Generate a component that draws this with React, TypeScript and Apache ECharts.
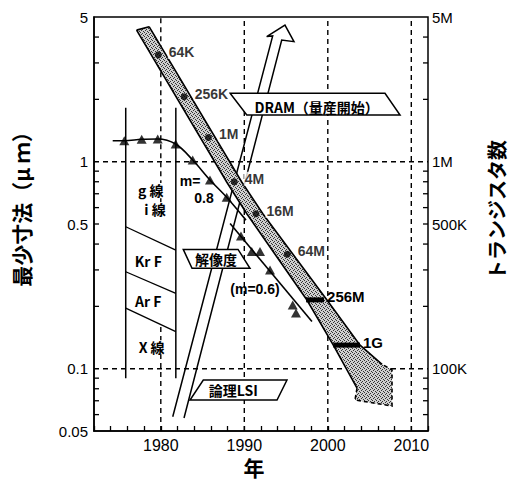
import React, { useEffect, useRef } from 'react';
import * as echarts from 'echarts';

// ---- axes ----
const xMin = 1972;
const xMax = 2012;
const yMin = 0.05;
const yMax = 5;
const xLabelYears = [1980, 1990, 2000, 2010];
const yLabelValues = [5, 1, 0.5, 0.1, 0.05];
const yLabelTexts = ['5', '1', '0.5', '0.1', '0.05'];
const yTickValues = [4, 3, 2, 0.9, 0.8, 0.7, 0.6, 0.5, 0.4, 0.3, 0.2, 0.09, 0.08, 0.07, 0.06];
const rightLabelValues = [5, 1, 0.5, 0.1];
const rightLabelTexts = ['5M', '1M', '500K', '100K'];
const gridYears = [1990, 2000, 2010];
const grid1980Segments = [[0.05, 0.16], [0.57, 5]];
const gridValues = [1, 0.1];

// ---- DRAM trend band ----
const dramGenerations = ['64K', '256K', '1M', '4M', '16M', '64M'];
const dramYears = [1979.7, 1982.8, 1985.7, 1988.8, 1991.4, 1995.15];
const dramSizes = [3.28, 2.06, 1.31, 0.8, 0.56, 0.357];
const dramBarGenerations = ['256M', '1G'];
const dramBarStart = [1997.4, 2000.66];
const dramBarEnd = [1999.55, 2003.86];
const dramBarSizes = [0.215, 0.13];
const dramBandLeftYears = [1977.1, 1987.89, 1990.32, 1997.5, 2000.66, 2003.5];
const dramBandLeftSizes = [4.32, 0.7975, 0.5587, 0.2146, 0.13, 0.0806];
const dramBandRightYears = [1978.6, 1989.69, 1992.24, 1999.9, 2003.86, 2006.5];
const dramBandRightSizes = [4.49, 0.7975, 0.5587, 0.2146, 0.13, 0.105];
const dramHeadYears = [2003.26, 2007.69, 2007.69];
const dramHeadSizes = [0.0706, 0.066, 0.0986];

// ---- resolution ----
const res08Years = [1974.24, 1975.63, 1977.71, 1979.63, 1981.78, 1983.82, 1985.89, 1987.89, 1990.2];
const res08Sizes = [1.263, 1.263, 1.283, 1.287, 1.217, 1.019, 0.816, 0.673, 0.522];
const res06Years = [1988.3, 1998.1];
const res06Sizes = [0.503, 0.169];
const resPointYears = [1975.63, 1977.71, 1979.63, 1981.78, 1983.82, 1985.89, 1987.89, 1989.6, 1990.89, 1991.88, 1993.08, 1995.8, 1996.19];
const resPointSizes = [1.263, 1.283, 1.287, 1.217, 1.019, 0.816, 0.673, 0.437, 0.368, 0.368, 0.3, 0.203, 0.186];
const mLabelTexts = ['m=', '0.8', '(m=0.6)'];
const mLabelYears = [1983.5, 1985.17, 1991.28];
const mLabelSizes = [0.806, 0.668, 0.243];

// ---- logic LSI arrow ----
const lsiArrowYears = [1981.43, 1993.4, 1992.68, 1994.87, 1995.95, 1994.48, 1982.78];
const lsiArrowSizes = [0.0586, 4.05, 4.02, 4.57, 3.8, 3.87, 0.0578];

// ---- light sources ----
const sourceBoundaryYears = [1975.8, 1981.8];
const sourceTop = 1.82;
const sourceBottom = 0.09;
const sourceSepLeft = [0.485, 0.294, 0.196];
const sourceSepRight = [0.374, 0.231, 0.151];
const sourceNames = ['g 線', 'i 線', 'Kr F', 'Ar F', 'X 線'];
const sourceNameYears = [1978.8, 1979.3, 1978.5, 1978.5, 1978.9];
const sourceNameSizes = [0.73, 0.59, 0.331, 0.212, 0.127];

// ---- callouts ----
const calloutTexts = ['DRAM（量産開始）', '解像度', '論理LSI'];
const calloutYears = [
  [1988.3, 2006.85, 2008.65, 1990.3],
  [1982.69, 1989.25, 1990.68, 1983.74],
  [1985.09, 1995.11, 1993.92, 1983.5],
];
const calloutSizes = [
  [2.14, 2.14, 1.681, 1.681],
  [0.377, 0.377, 0.3055, 0.3055],
  [0.0882, 0.0882, 0.0706, 0.0706],
];
const calloutTextYears = [1998.67, 1986.6, 1988.68];
const calloutTextSizes = [1.844, 0.339, 0.0785];

const FONT = '"Liberation Sans", "Noto Sans CJK JP", sans-serif';
const CJK = '"Noto Sans CJK JP", "Liberation Sans", sans-serif';

function makeStipple() {
  const c = document.createElement('canvas');
  c.width = 4;
  c.height = 4;
  const ctx = c.getContext('2d')!;
  ctx.fillStyle = '#cfcfcf';
  ctx.fillRect(0, 0, 4, 4);
  ctx.fillStyle = '#333';
  ctx.fillRect(0, 0, 1, 1);
  ctx.fillRect(2, 1, 1, 1);
  ctx.fillRect(1, 2, 1, 1);
  ctx.fillRect(3, 3, 1, 1);
  return c;
}

export default function App() {
  const ref = useRef<HTMLDivElement>(null);
  useEffect(() => {
    if (!ref.current) return;
    const chart = echarts.init(ref.current, undefined, { renderer: 'svg' });
    const stipple = makeStipple();
    const black = '#000';

    const series: any[] = [];

    // grid dashed lines
    series.push({
      type: 'custom', z: 1, silent: true,
      data: gridYears.map((y) => [y, 1]),
      renderItem: (params: any, api: any) => {
        const yr = api.value(0);
        const a = api.coord([yr, yMin]);
        const b = api.coord([yr, yMax]);
        return { type: 'line', shape: { x1: a[0], y1: a[1], x2: b[0], y2: b[1] }, style: { stroke: black, lineWidth: 1.4, lineDash: [5, 4] } };
      },
    });
    series.push({
      type: 'custom', z: 1, silent: true,
      data: grid1980Segments.map((s) => [1980, s[0], s[1]]),
      renderItem: (params: any, api: any) => {
        const a = api.coord([1980, api.value(1)]);
        const b = api.coord([1980, api.value(2)]);
        return { type: 'line', shape: { x1: a[0], y1: a[1], x2: b[0], y2: b[1] }, style: { stroke: black, lineWidth: 1.4, lineDash: [5, 4] } };
      },
    });
    series.push({
      type: 'custom', z: 1, silent: true,
      data: gridValues.map((v) => [xMin, v]),
      renderItem: (params: any, api: any) => {
        const v = api.value(1);
        const a = api.coord([xMin, v]);
        const b = api.coord([xMax, v]);
        return { type: 'line', shape: { x1: a[0], y1: a[1], x2: b[0], y2: b[1] }, style: { stroke: black, lineWidth: 1.4, lineDash: [5, 4] } };
      },
    });

    // light source region
    series.push({
      type: 'custom', z: 2, silent: true,
      data: [[sourceBoundaryYears[0], sourceTop]],
      renderItem: (params: any, api: any) => {
        const children: any[] = [];
        sourceBoundaryYears.forEach((yr) => {
          const a = api.coord([yr, sourceTop]);
          const b = api.coord([yr, sourceBottom]);
          children.push({ type: 'line', shape: { x1: a[0], y1: a[1], x2: b[0], y2: b[1] }, style: { stroke: black, lineWidth: 1.5 } });
        });
        sourceSepLeft.forEach((v, i) => {
          const a = api.coord([sourceBoundaryYears[0], v]);
          const b = api.coord([sourceBoundaryYears[1], sourceSepRight[i]]);
          children.push({ type: 'line', shape: { x1: a[0], y1: a[1], x2: b[0], y2: b[1] }, style: { stroke: black, lineWidth: 1.3 } });
        });
        sourceNames.forEach((t, i) => {
          const p = api.coord([sourceNameYears[i], sourceNameSizes[i]]);
          children.push({
            type: 'text', x: p[0], y: p[1],
            style: { text: t, fill: black, fontSize: 14, fontWeight: 'bold', fontFamily: CJK, align: 'center', verticalAlign: 'middle', backgroundColor: '#fff', padding: [0, 1] },
          });
        });
        return { type: 'group', children };
      },
    });

    // logic LSI hollow arrow
    series.push({
      type: 'custom', z: 3, silent: true,
      data: [[lsiArrowYears[0], lsiArrowSizes[0]]],
      renderItem: (params: any, api: any) => {
        const pts = lsiArrowYears.map((yr, i) => api.coord([yr, lsiArrowSizes[i]]));
        return { type: 'polyline', shape: { points: pts }, style: { stroke: black, lineWidth: 1.5, fill: 'none' } };
      },
    });

    // resolution curves
    series.push({
      type: 'line', z: 5, silent: true, smooth: 0.35, showSymbol: false,
      data: res08Years.map((yr, i) => [yr, res08Sizes[i]]),
      lineStyle: { color: black, width: 1.6 },
    });
    series.push({
      type: 'line', z: 5, silent: true, showSymbol: false,
      data: res06Years.map((yr, i) => [yr, res06Sizes[i]]),
      lineStyle: { color: black, width: 1.6 },
    });
    series.push({
      type: 'scatter', z: 6, silent: true, symbol: 'triangle', symbolSize: [10, 9],
      data: resPointYears.map((yr, i) => [yr, resPointSizes[i]]),
      itemStyle: { color: black },
    });
    series.push({
      type: 'custom', z: 6, silent: true,
      data: mLabelTexts.map((t, i) => [mLabelYears[i], mLabelSizes[i]]),
      renderItem: (params: any, api: any) => {
        const p = api.coord([api.value(0), api.value(1)]);
        return { type: 'text', x: p[0], y: p[1], style: { text: mLabelTexts[params.dataIndex], fill: black, fontSize: 14, fontWeight: 'bold', fontFamily: FONT, align: 'center', verticalAlign: 'middle' } };
      },
    });

    // DRAM band
    series.push({
      type: 'custom', z: 8, silent: true,
      data: [[dramBandLeftYears[0], dramBandLeftSizes[0]]],
      renderItem: (params: any, api: any) => {
        const L = dramBandLeftYears.map((yr, i) => api.coord([yr, dramBandLeftSizes[i]]));
        const R = dramBandRightYears.map((yr, i) => api.coord([yr, dramBandRightSizes[i]]));
        const H = dramHeadYears.map((yr, i) => api.coord([yr, dramHeadSizes[i]]));
        const outline = [...L, ...H, ...R.slice().reverse()];
        return {
          type: 'group',
          children: [
            { type: 'polygon', shape: { points: outline }, style: { fill: { image: stipple, repeat: 'repeat' } as any, stroke: 'none' } },
            { type: 'polyline', shape: { points: L }, style: { stroke: black, lineWidth: 1.6, fill: 'none' } },
            { type: 'polyline', shape: { points: R }, style: { stroke: black, lineWidth: 1.6, fill: 'none' } },
            { type: 'polyline', shape: { points: [L[0], R[0]] }, style: { stroke: black, lineWidth: 1.6, fill: 'none' } },
            { type: 'polyline', shape: { points: [L[L.length - 1], ...H, R[R.length - 1]] }, style: { stroke: black, lineWidth: 1.6, fill: 'none', lineDash: [4, 3] } },
          ],
        };
      },
    });
    series.push({
      type: 'custom', z: 9, silent: true,
      data: dramBarGenerations.map((g, i) => [dramBarStart[i], dramBarSizes[i], dramBarEnd[i]]),
      renderItem: (params: any, api: any) => {
        const a = api.coord([api.value(0), api.value(1)]);
        const b = api.coord([api.value(2), api.value(1)]);
        return {
          type: 'group',
          children: [
            { type: 'line', shape: { x1: a[0], y1: a[1], x2: b[0], y2: b[1] }, style: { stroke: black, lineWidth: 5 } },
            { type: 'text', x: b[0] + 3, y: b[1] - 3, style: { text: dramBarGenerations[params.dataIndex], fill: black, fontSize: 15, fontWeight: 'bold', fontFamily: FONT, align: 'left', verticalAlign: 'middle' } },
          ],
        };
      },
    });

    // callouts
    series.push({
      type: 'custom', z: 12, silent: true,
      data: calloutTexts.map((t, i) => [calloutTextYears[i], calloutTextSizes[i]]),
      renderItem: (params: any, api: any) => {
        const i = params.dataIndex;
        const pts = calloutYears[i].map((yr, k) => api.coord([yr, calloutSizes[i][k]]));
        const c = api.coord([api.value(0), api.value(1)]);
        return {
          type: 'group',
          children: [
            { type: 'polygon', shape: { points: pts }, style: { fill: '#fff', stroke: black, lineWidth: 1.5 } },
            { type: 'text', x: c[0], y: c[1], style: { text: calloutTexts[i], fill: black, fontSize: 14, fontWeight: 'bold', fontFamily: CJK, align: 'center', verticalAlign: 'middle' } },
          ],
        };
      },
    });

    // DRAM generation dots and labels (above callouts)
    series.push({
      type: 'scatter', z: 13, silent: true, symbol: 'circle', symbolSize: 7,
      data: dramGenerations.map((g, i) => ({ name: g, value: [dramYears[i], dramSizes[i]] })),
      itemStyle: { color: black },
      label: { show: true, formatter: '{b}', position: 'right', distance: 6, offset: [0, -3], color: black, fontSize: 14, fontWeight: 'bold', fontFamily: FONT, backgroundColor: '#fff', padding: [0, 1] },
    });

    // y-axis ticks (both sides)
    series.push({
      type: 'custom', z: 20, silent: true,
      data: yTickValues.map((v) => [xMin, v]),
      renderItem: (params: any, api: any) => {
        const v = api.value(1);
        const l = api.coord([xMin, v]);
        const r = api.coord([xMax, v]);
        return {
          type: 'group',
          children: [
            { type: 'line', shape: { x1: l[0], y1: l[1], x2: l[0] + 5, y2: l[1] }, style: { stroke: black, lineWidth: 1.3 } },
            { type: 'line', shape: { x1: r[0] - 5, y1: r[1], x2: r[0], y2: r[1] }, style: { stroke: black, lineWidth: 1.3 } },
          ],
        };
      },
    });
    series.push({
      type: 'custom', z: 20, silent: true,
      data: yLabelValues.map((v) => [xMin, v]),
      renderItem: (params: any, api: any) => {
        const p = api.coord([xMin, api.value(1)]);
        return { type: 'text', x: p[0] - 6, y: p[1], style: { text: yLabelTexts[params.dataIndex], fill: black, fontSize: 15, fontFamily: FONT, align: 'right', verticalAlign: 'middle' } };
      },
    });
    series.push({
      type: 'custom', z: 20, silent: true,
      data: rightLabelValues.map((v) => [xMax, v]),
      renderItem: (params: any, api: any) => {
        const p = api.coord([xMax, api.value(1)]);
        return { type: 'text', x: p[0] + 4, y: p[1], style: { text: rightLabelTexts[params.dataIndex], fill: black, fontSize: 15, fontFamily: FONT, align: 'left', verticalAlign: 'middle' } };
      },
    });

    chart.setOption({
      animation: false,
      backgroundColor: '#fff',
      grid: { left: 94, right: 81, top: 17, bottom: 52, show: true, borderColor: black, borderWidth: 1.5, backgroundColor: 'transparent' },
      xAxis: {
        type: 'value', min: xMin, max: xMax, interval: 2,
        axisLine: { lineStyle: { color: black, width: 1.5 } },
        axisTick: { inside: true, length: 5, lineStyle: { color: black, width: 1.3 } },
        axisLabel: {
          formatter: (v: number) => (xLabelYears.includes(Math.round(v)) ? String(Math.round(v)) : ''),
          color: black, fontSize: 16, margin: 6, fontFamily: FONT,
        },
        splitLine: { show: false },
      },
      yAxis: {
        type: 'log', logBase: 10, min: yMin, max: yMax,
        axisLine: { show: true, lineStyle: { color: black, width: 1.5 } },
        axisTick: { show: false },
        axisLabel: { show: false },
        splitLine: { show: false },
      },
      graphic: [
        { type: 'text', x: 21, y: 204, rotation: Math.PI / 2, style: { text: '最少寸法（μ ｍ）', fill: black, fontSize: 21, fontWeight: 'bold', fontFamily: CJK, align: 'center', verticalAlign: 'middle' } },
        { type: 'text', x: 496, y: 210, rotation: Math.PI / 2, style: { text: 'トランジスタ数', fill: black, fontSize: 20, fontWeight: 'bold', fontFamily: CJK, align: 'center', verticalAlign: 'middle' } },
        { type: 'text', x: 254, y: 467, style: { text: '年', fill: black, fontSize: 21, fontWeight: 'bold', fontFamily: CJK, align: 'center', verticalAlign: 'middle' } },
      ],
      series,
    });
    return () => chart.dispose();
  }, []);
  return <div ref={ref} style={{ position: 'fixed', left: 0, top: 0, width: 509, height: 483, background: '#fff' }} />;
}
